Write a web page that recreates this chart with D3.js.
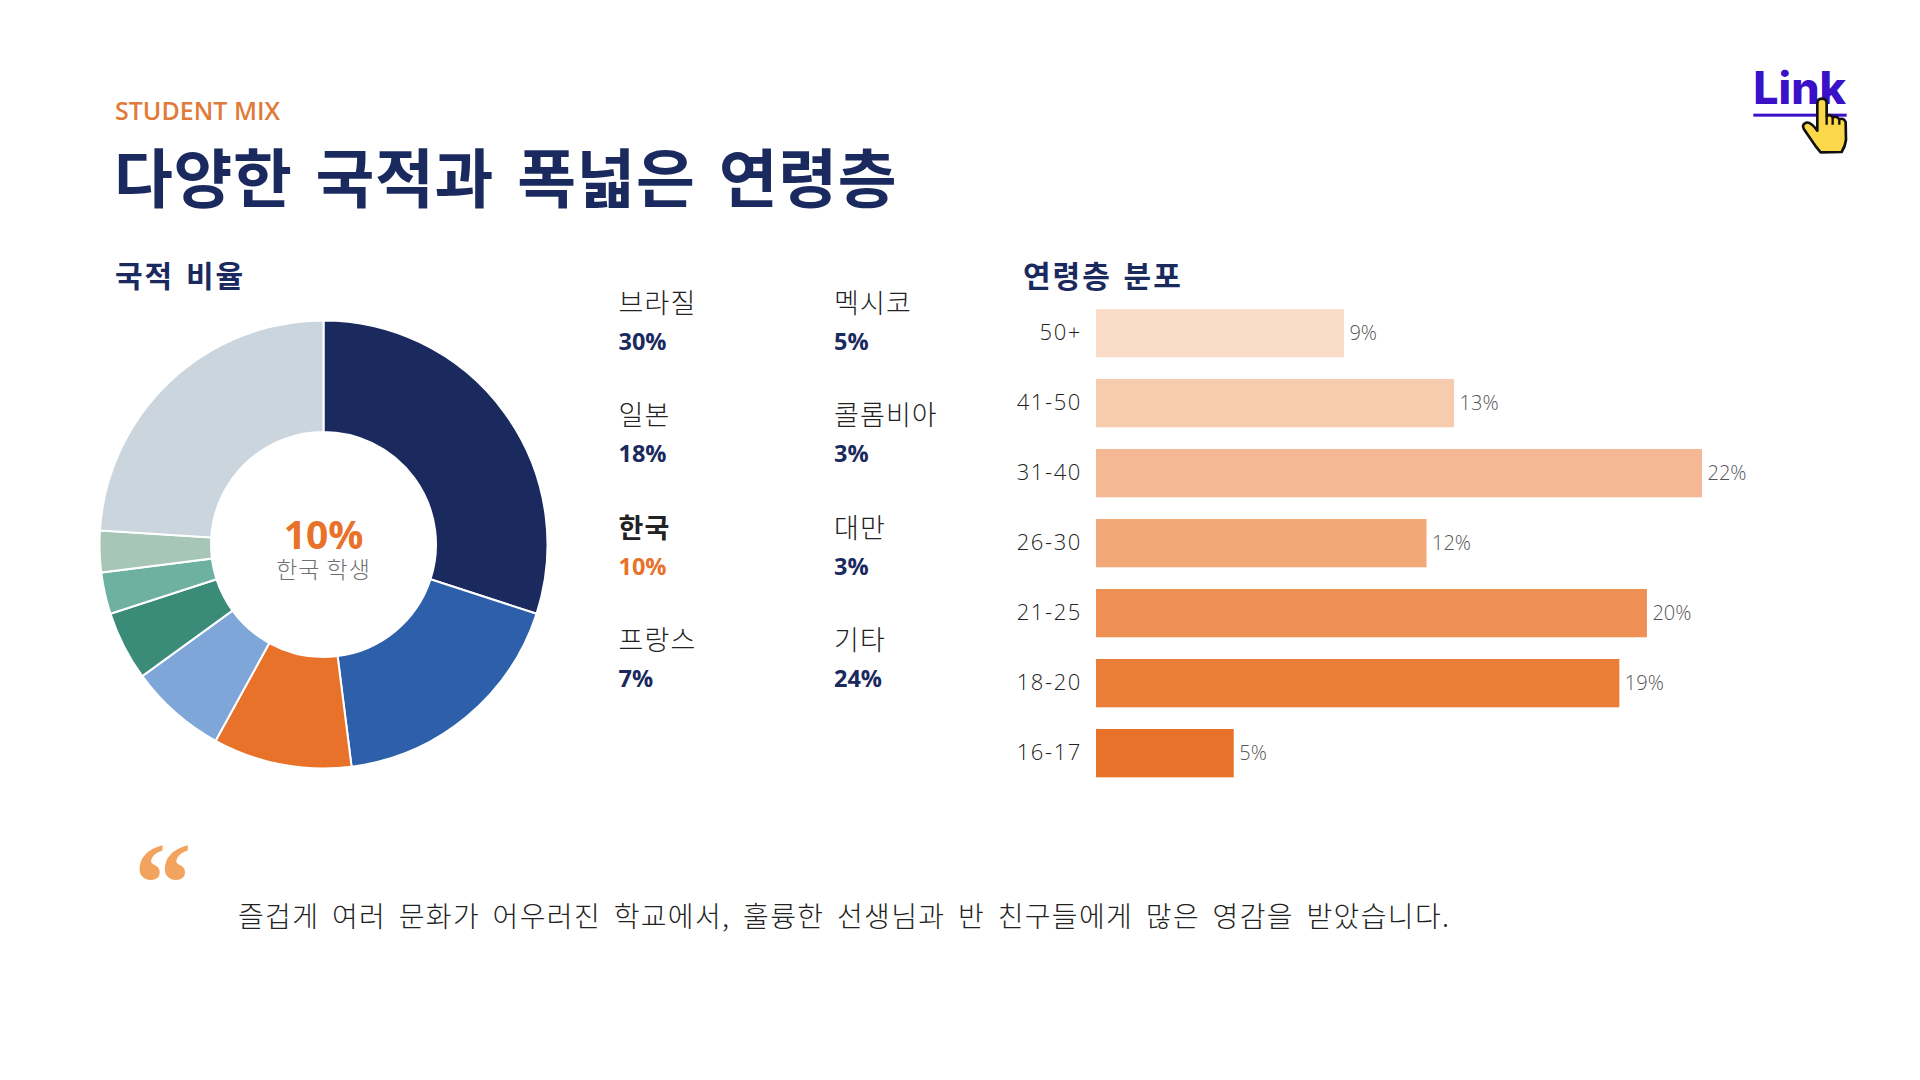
<!DOCTYPE html>
<html>
<head>
<meta charset="utf-8">
<script src="https://cdn.jsdelivr.net/npm/d3@7"></script>
<style>
  body { margin: 0; background: #fff; }
  text { font-family: "Open Sans", "Noto Sans CJK KR", sans-serif; }
  .ko { font-family: "Noto Sans CJK KR", sans-serif; }
</style>
</head>
<body>
<div id="chart"></div>
<script>
// nationality share
var countries = ['브라질', '일본', '한국', '프랑스', '멕시코', '콜롬비아', '대만', '기타'];
var shares = [30, 18, 10, 7, 5, 3, 3, 24];
var shareColors = ['#1b2a5e', '#2e5faa', '#e8722a', '#7fa6d9', '#3a8c78', '#6fb1a1', '#a8c6b8', '#cbd5de'];

// age distribution
var ages = ['50+', '41-50', '31-40', '26-30', '21-25', '18-20', '16-17'];
var agePct = [9, 13, 22, 12, 20, 19, 5];
var ageColors = ['#fadcc8', '#f7cbae', '#f4b894', '#f2a877', '#ef9155', '#eb7f3a', '#e8722a'];

var navy = '#1b2a5e', orange = '#e8722a';

var svg = d3.select('#chart').append('svg')
  .attr('width', 1920)
  .attr('height', 1080);

// header
svg.append('text').attr('x', 115).attr('y', 120)
  .attr('font-size', 25).attr('font-weight', 600).attr('fill', '#e07b3a')
  .text('STUDENT MIX');
svg.append('text').attr('class', 'ko').attr('x', 114).attr('y', 202)
  .attr('font-size', 64).attr('font-weight', 700).attr('fill', navy)
  .style('letter-spacing', '0.6px')
  .style('word-spacing', '8px')
  .text('다양한 국적과 폭넓은 연령층');

svg.append('text').attr('class', 'ko').attr('x', 115).attr('y', 287)
  .attr('font-size', 30).attr('font-weight', 700).attr('fill', navy)
  .style('letter-spacing', '2px').style('word-spacing', '3px')
  .text('국적 비율');
svg.append('text').attr('class', 'ko').attr('x', 1023).attr('y', 287)
  .attr('font-size', 30).attr('font-weight', 700).attr('fill', navy)
  .style('letter-spacing', '2px').style('word-spacing', '3px')
  .text('연령층 분포');

// donut
var pie = d3.pie().sort(null);
var arc = d3.arc().innerRadius(112.5).outerRadius(224);
var donut = svg.append('g').attr('transform', 'translate(323.5,544.5)');

donut.selectAll('path')
  .data(pie(shares))
  .enter().append('path')
  .attr('d', arc)
  .attr('fill', function(d, i) { return shareColors[i]; })
  .attr('stroke', '#fff')
  .attr('stroke-width', 2);

donut.append('text').attr('text-anchor', 'middle')
  .attr('y', 4).attr('font-size', 39).attr('font-weight', 700).attr('fill', orange)
  .text('10%');
donut.append('text').attr('class', 'ko').attr('text-anchor', 'middle')
  .attr('y', 33).attr('font-size', 23).attr('font-weight', 300).attr('fill', '#707070')
  .style('letter-spacing', '1px')
  .text('한국 학생');

// share list, two columns
var colX = d3.scaleOrdinal().domain([0, 1]).range([618.5, 834]);
var rowY = d3.scalePoint().domain(d3.range(4)).range([312.5, 650]);

countries.forEach(function(name, i) {
  var col = i < 4 ? 0 : 1, row = i % 4, isKr = name === '한국';
  svg.append('text').attr('class', 'ko')
    .attr('x', colX(col)).attr('y', rowY(row))
    .attr('font-size', 27).attr('font-weight', isKr ? 700 : 300)
    .attr('fill', '#222')
    .style('letter-spacing', '1.1px')
    .text(name);
  svg.append('text')
    .attr('x', colX(col)).attr('y', rowY(row) + 37)
    .attr('font-size', 23.5).attr('font-weight', 700)
    .attr('fill', isKr ? orange : navy)
    .text(shares[i] + '%');
});

// age bars
var x = d3.scaleLinear().domain([0, 22]).range([1096, 1702]);
var y = d3.scaleBand().domain(ages).range([309, 777.3]).paddingInner(0.31).paddingOuter(0);

svg.selectAll('rect.age')
  .data(ages)
  .enter().append('rect')
  .attr('class', 'age')
  .attr('x', x(0))
  .attr('y', function(d) { return y(d); })
  .attr('width', function(d, i) { return x(agePct[i]) - x(0); })
  .attr('height', y.bandwidth())
  .attr('fill', function(d, i) { return ageColors[i]; });

svg.selectAll('text.pct')
  .data(ages)
  .enter().append('text')
  .attr('class', 'pct')
  .attr('x', function(d, i) { return x(agePct[i]) + 5.5; })
  .attr('y', function(d) { return y(d) + y.bandwidth() / 2 + 7; })
  .attr('font-size', 20).attr('font-weight', 300).attr('fill', '#555')
  .text(function(d, i) { return agePct[i] + '%'; });

var yAxis = svg.append('g')
  .attr('transform', 'translate(' + (x(0) - 14) + ',0)')
  .call(d3.axisLeft(y).tickSize(0).tickPadding(0));
yAxis.select('.domain').remove();
yAxis.selectAll('text')
  .attr('font-size', 22).attr('font-weight', 300).attr('fill', '#222')
  .style('font-family', '"Open Sans", sans-serif')
  .style('letter-spacing', '1.6px');

// quote
svg.append('text').attr('x', 134).attr('y', 922)
  .attr('font-size', 115).attr('font-weight', 700).attr('fill', '#f2a35e')
  .style('font-family', '"Liberation Serif", serif')
  .text('“');
svg.append('text').attr('class', 'ko').attr('x', 238).attr('y', 927)
  .attr('font-size', 28).attr('font-weight', 300).attr('fill', '#222')
  .style('letter-spacing', '1.36px').style('word-spacing', '5px')
  .text('즐겁게 여러 문화가 어우러진 학교에서, 훌륭한 선생님과 반 친구들에게 많은 영감을 받았습니다.');

// link badge with cursor
var link = svg.append('g').attr('transform', 'translate(1700,40) scale(0.3333)');
link.append('text').attr('x', 160).attr('y', 193)
  .attr('font-size', 134).attr('font-weight', 800).attr('fill', '#3a10c8')
  .style('font-family', 'Inter, sans-serif')
  .text('Link');
link.append('rect').attr('x', 160).attr('y', 221).attr('width', 280).attr('height', 9).attr('fill', '#3a10c8');
link.append('path')
  .attr('d', 'M352 190Q352 176 366 176Q380 176 380 190L380 228Q392 222 398 232Q410 226 418 238Q430 232 437 246L438 300Q436 318 425 336L362 337L348 320L312 268Q304 254 318 248Q332 244 352 272Z')
  .attr('fill', '#fbd84a').attr('stroke', '#111').attr('stroke-width', 8).attr('stroke-linejoin', 'round');
link.append('path')
  .attr('d', 'M380 228L380 254M398 232L398 254M418 238L418 254')
  .attr('fill', 'none').attr('stroke', '#111').attr('stroke-width', 7);
</script>
</body>
</html>
